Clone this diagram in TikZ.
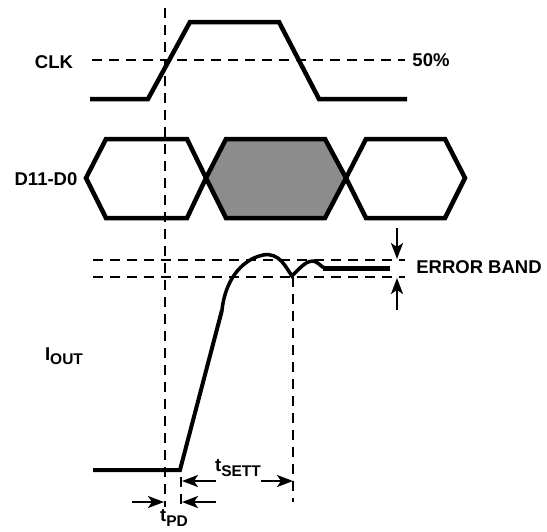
\documentclass[tikz,border=0pt]{standalone}
\usepackage{fontspec}
\setmainfont{Liberation Sans}
\usetikzlibrary{arrows.meta}
\newcommand{\lowsub}[1]{\raisebox{-4.5pt}{\fontsize{15.5}{16}\selectfont\bfseries #1}}
\tikzset{
  wave/.style={line width=4.5pt, line join=miter},
  hexa/.style={line width=4.5pt, line join=miter},
  guide/.style={line width=1.9pt, dash pattern=on 10pt off 7pt},
  lbl/.style={font=\fontsize{18.5}{20}\selectfont\bfseries, inner sep=0pt},
  dimarrow/.style={line width=2.2pt, -{Stealth[length=16pt,width=12pt,inset=4pt]}},
}
\begin{document}
\begin{tikzpicture}[x=1pt,y=-1pt]
\useasboundingbox (0,0) rectangle (547,531);

% guides
\draw[guide] (165,8) -- (165,507);
\draw[guide] (92,60) -- (405,60);
\draw[guide] (93,260) -- (405,260);
\draw[guide] (93,277) -- (405,277);
\draw[guide] (293,277) -- (293,502);
\draw[guide] (181,477) -- (181,507);

% CLK
\draw[wave] (90,99) -- (148,99) -- (190,22) -- (279,22) -- (319,99) -- (407,99);

% data hexagons
\draw[hexa] (86,178) -- (106,139) -- (187,139) -- (206,178) -- (187,218) -- (106,218) -- cycle;
\draw[hexa, fill={rgb,255:red,140;green,140;blue,140}] (206,178) -- (226,139) -- (325,139) -- (346,178) -- (325,218) -- (226,218) -- cycle;
\draw[hexa] (346,178) -- (366,139) -- (445,139) -- (465,178) -- (445,218) -- (366,218) -- cycle;

% IOUT
\draw[line width=4pt, line join=miter] (93,470) -- (180,470) -- (222,310);
\draw[line width=3.5pt] (222,310) .. controls (225,282) and (240,260) .. (263,255)
  .. controls (280,252) and (286,268) .. (292,276)
  .. controls (300,268) and (308,258) .. (316,262)
  .. controls (320,264) and (322,268) .. (326,268);
\draw[line width=5pt] (323,268) -- (390,268);

% dimension arrows
\coordinate (ebTs) at (397,228); \coordinate (ebTe) at (397,259);
\coordinate (ebBs) at (397,310); \coordinate (ebBe) at (397,278);
\draw[dimarrow] (ebTs) -- (ebTe);
\draw[dimarrow] (ebBs) -- (ebBe);
\coordinate (pdLs) at (132,502); \coordinate (pdLe) at (164,502);
\coordinate (pdRs) at (216,502); \coordinate (pdRe) at (182,502);
\draw[dimarrow] (pdLs) -- (pdLe);
\draw[dimarrow] (pdRs) -- (pdRe);
\coordinate (stLs) at (216,481); \coordinate (stLe) at (182,481);
\coordinate (stRs) at (261,481); \coordinate (stRe) at (293,481);
\draw[dimarrow] (stLs) -- (stLe);
\draw[dimarrow] (stRs) -- (stRe);

% labels
\node[lbl] (clk) at (54,62) {CLK};
\node[lbl] (pct) at (431,60) {50\%};
\node[lbl] (data) at (46,179) {D11-D0};
\node[lbl] (eband) at (479,267) {ERROR BAND};
\node[lbl] (iout) at (64,356) {I\lowsub{OUT}};
\node[lbl] (tsett) at (238,468) {t\lowsub{SETT}};
\node[lbl] (tpd) at (174,518) {t\lowsub{PD}};
\end{tikzpicture}
\end{document}
